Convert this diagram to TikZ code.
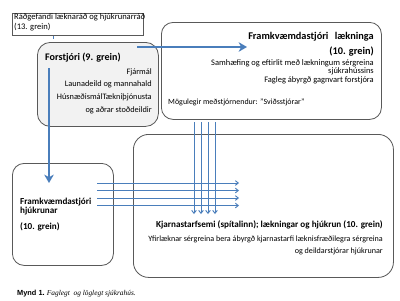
\documentclass[tikz,border=0pt]{standalone}
\usepackage{fontspec}
\setmainfont{Carlito}
\newfontfamily\capsans{Liberation Sans}
\newfontfamily\capserif{Liberation Serif}
\usetikzlibrary{arrows.meta, positioning}
\definecolor{arrowblue}{HTML}{4A7EBB}
\definecolor{boxgray}{HTML}{F2F2F2}
\definecolor{edgegray}{HTML}{595959}

\begin{document}
\begin{tikzpicture}[
    x=0.03cm, y=-0.03cm,
    >=Stealth,
    txt/.style={font=\fontsize{7.1}{10.8}\selectfont, inner sep=0pt, align=right},
    small/.style={txt, font=\fontsize{7.2}{7.4}\selectfont},
    ttl/.style={txt, font=\fontsize{7.8}{12.6}\selectfont\bfseries},
    frame/.style={draw=edgegray, line width=0.7pt, fill=white, anchor=north west, inner sep=0pt, rounded corners=10pt},
    bigarrow/.style={-{Stealth[length=7pt,width=8pt,inset=2pt]}, line width=2pt, arrowblue},
    thinarrow/.style={-{Straight Barb[length=2.5pt,width=4pt]}, line width=0.8pt, arrowblue},
  ]
  \useasboundingbox[fill=white] (0,0) rectangle (400,300);
  % boxes
  \node[frame, rounded corners=0pt, minimum width=3.93cm, minimum height=0.66cm] (rad) at (12,13) {};
  \node[frame, fill=boxgray, rounded corners=11pt, minimum width=3.63cm, minimum height=2.52cm] (forst) at (37,42) {};
  \node[frame, minimum width=6.6cm, minimum height=2.91cm] (laek) at (161,22) {};
  \node[frame, minimum width=3.03cm, minimum height=3.06cm] (hjuk) at (12,163) {};
  \node[frame, rounded corners=13pt, minimum width=7.8cm, minimum height=4.29cm] (kjarn) at (133,134) {};
  % texts
  \node[small, align=left, anchor=west, font=\fontsize{7.3}{8.5}\selectfont] (rad-t) at (14,22.5) {Ráðgefandi læknaráð og hjúkrunarráð\\(13. grein)};
  \node[ttl, anchor=west, font=\fontsize{8.6}{10}\selectfont\bfseries] (forst-t) at (45,58) {Forstjóri (9. grein)};
  \node[txt, anchor=east] (forst-b) at (152,91) {Fjármál\\Launadeild og mannahald\\HúsnæðismálTækniþjónusta\\og aðrar stoðdeildir};
  \node[ttl, anchor=east, font=\fontsize{8.8}{12.8}\selectfont\bfseries] (laek-t) at (374,44.5) {Framkvæmdastjóri\ \ \,lækninga\\(10. grein)};
  \node[small, anchor=east] (laek-b) at (374,71.5) {Samhæfing og eftirlit með lækningum sérgreina\\sjúkrahússins\\Fagleg ábyrgð gagnvart forstjóra};
  \node[small, anchor=west, font=\fontsize{6.8}{7.4}\selectfont] (laek-m) at (168,102) {Mögulegir meðstjórnendur: "Sviðsstjórar"};
  \node[ttl, align=left, anchor=north west, font=\fontsize{7.8}{7.9}\selectfont\bfseries] (hjuk-t) at (20,197.5) {Framkvæmdastjóri\\hjúkrunar\\[5.5pt](10. grein)};
  \node[ttl, anchor=east] (kjarn-t) at (383,225) {Kjarnastarfsemi (spítalinn); lækningar og hjúkrun (10. grein)};
  \node[txt, anchor=east, font=\fontsize{6.9}{10.2}\selectfont] (kjarn-b) at (383,245) {Yfirlæknar sérgreina bera ábyrgð kjarnastarfi læknisfræðilegra sérgreina\\og deildarstjórar hjúkrunar};
  \node[inner sep=0pt, anchor=west, font=\fontsize{6.3}{7}\selectfont] (cap) at (17,294) {{\capsans\bfseries Mynd 1.} {\capserif\itshape Faglegt\ \ og löglegt sjúkrahús.}};
  % connectors
  \coordinate (dx) at (53,0);
  \draw[arrowblue, dashed, line width=0.6pt] (rad.south -| dx) -- (forst.north -| dx);
  \coordinate (ra) at (137,47);
  \coordinate (rb) at (247,47);
  \draw[bigarrow] (ra) -- (rb);
  \coordinate (da) at (49,68);
  \coordinate (db) at (49,183);
  \draw[bigarrow] (da) -- (db);
  \coordinate (vtop) at (0,122);
  \coordinate (vbot) at (0,214);
  \foreach \px in {194,201,208,215}
    \draw[thinarrow] (vtop -| \px,0) -- (vbot -| \px,0);
  \coordinate (hl) at (97,0);
  \coordinate (hr) at (239,0);
  \foreach \py in {183,190.5,198,205.5}
    \draw[thinarrow] (hl |- 0,\py) -- (hr |- 0,\py);
\end{tikzpicture}
\end{document}
